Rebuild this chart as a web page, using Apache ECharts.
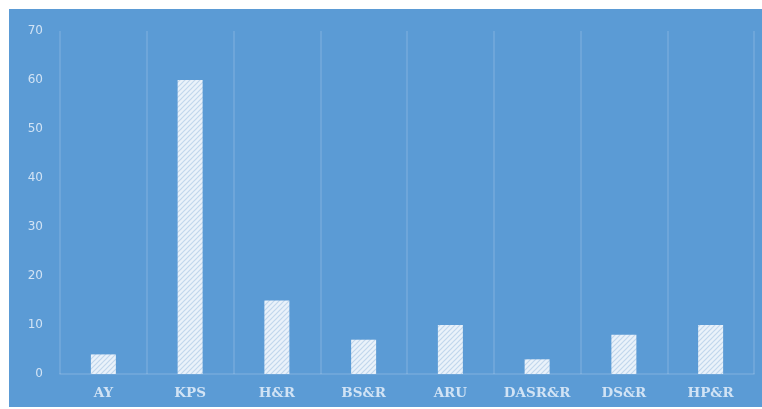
<!DOCTYPE html>
<html>
<head>
<meta charset="utf-8">
<script src="https://cdn.jsdelivr.net/npm/echarts@6/dist/echarts.min.js"></script>
<style>
  html, body { margin: 0; padding: 0; background: #ffffff; }
  #chart { width: 762px; height: 409px; }
</style>
</head>
<body>
<div id="chart"></div>
<script>
// Categories and counts shown on the chart
const categories = ['AY', 'KPS', 'H&R', 'BS&R', 'ARU', 'DASR&R', 'DS&R', 'HP&R'];
const values = [4, 60, 15, 7, 10, 3, 8, 10];
const yTicks = { min: 0, max: 70, interval: 10 };

// Diagonal hatch fill for the bars
function hatchPattern() {
  const c = document.createElement('canvas');
  c.width = 5; c.height = 5;
  const g = c.getContext('2d');
  g.fillStyle = '#eaf2fa';
  g.fillRect(0, 0, 5, 5);
  g.strokeStyle = '#c0d6ed';
  g.lineWidth = 1.2;
  g.beginPath();
  g.moveTo(0, 5); g.lineTo(5, 0);
  g.moveTo(-2.5, 2.5); g.lineTo(2.5, -2.5);
  g.moveTo(2.5, 7.5); g.lineTo(7.5, 2.5);
  g.stroke();
  return c;
}

const chart = echarts.init(document.getElementById('chart'), null, { renderer: 'canvas' });
const labelColor = 'rgba(235,243,251,0.82)';
const lineColor = 'rgba(255,255,255,0.16)';

chart.setOption({
  animation: false,
  backgroundColor: '#ffffff',
  graphic: [{
    type: 'rect',
    z: -10,
    shape: { x: 9, y: 9, width: 753, height: 398 },
    style: { fill: '#5b9bd5' },
    silent: true
  }],
  grid: { left: 60, right: 8, top: 31, bottom: 35 },
  xAxis: {
    type: 'category',
    data: categories,
    axisLine: { show: true, lineStyle: { color: lineColor, width: 1.5 } },
    axisTick: { show: false },
    splitLine: { show: true, interval: 0, lineStyle: { color: lineColor, width: 1.5 } },
    axisLabel: {
      interval: 0,
      margin: 12,
      color: labelColor,
      fontFamily: 'DejaVu Serif',
      fontWeight: 'bold',
      fontSize: 13.5
    }
  },
  yAxis: {
    type: 'value',
    min: yTicks.min,
    max: yTicks.max,
    interval: yTicks.interval,
    axisLine: { show: false },
    axisTick: { show: false },
    splitLine: { show: false },
    axisLabel: {
      margin: 17,
      color: labelColor,
      fontFamily: 'DejaVu Sans',
      fontSize: 12
    }
  },
  series: [{
    type: 'bar',
    data: values,
    barWidth: 25,
    itemStyle: {
      color: { image: hatchPattern(), repeat: 'repeat' }
    }
  }]
});
</script>
</body>
</html>
